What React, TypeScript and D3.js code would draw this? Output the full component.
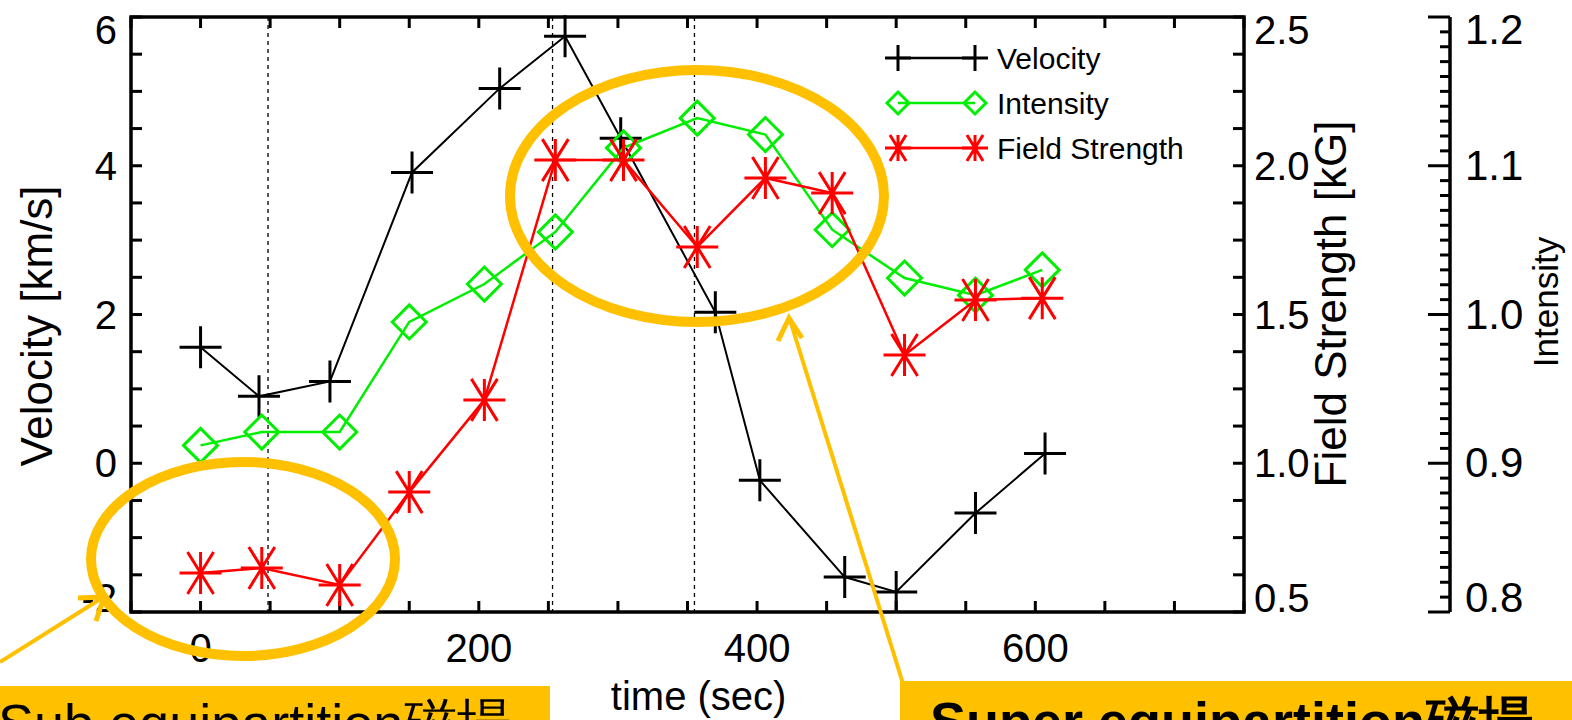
import React from "react";
import * as d3 from "d3";

// ---- data ----
const timeVel = [0, 42, 93, 152, 215, 262, 302, 370, 402, 463, 500, 557, 607];
const velocity = [1.56, 0.9, 1.1, 3.91, 5.04, 5.74, 4.37, 2.03, -0.23, -1.53, -1.73, -0.67, 0.13];
const timeMag = [0, 44, 100, 150, 204, 255, 304, 357, 406, 454, 506, 557, 605];
const intensity = [0.912, 0.921, 0.921, 0.995, 1.0205, 1.0555, 1.112, 1.132, 1.121, 1.057, 1.0245, 1.013, 1.03];
const fieldStrength = [0.631, 0.648, 0.591, 0.903, 1.213, 2.019, 2.019, 1.727, 1.959, 1.908, 1.364, 1.549, 1.555];
const markerTimes = [48.5, 253, 355];
const xTicks = [0, 200, 400, 600];
const velTicks = [-2, 0, 2, 4, 6];
const fieldTicks = [0.5, 1.0, 1.5, 2.0, 2.5];
const intTicks = [0.8, 0.9, 1.0, 1.1, 1.2];
const legendItems = ["Velocity", "Intensity", "Field Strength"];
const leftNote = "Sub equipartition磁場";
const rightNote = "Super equipartition磁場";

const W = 1572, H = 720;
const L = 131, R = 1244, T = 17, B = 612;
const IA = 1450;
const ORANGE = "#FFC000";
const GREEN = "#00ee00";
const RED = "#ff0000";
const FONT = "'Liberation Sans', Arial, Helvetica, sans-serif";

const x = d3.scaleLinear().domain([-50, 750]).range([L, R]);
const yV = d3.scaleLinear().domain([-2, 6]).range([B, T]);
const yF = d3.scaleLinear().domain([0.5, 2.5]).range([B, T]);
const yI = d3.scaleLinear().domain([0.8, 1.2]).range([B, T]);

// label center clamped inside the axis span (as in the original IDL plot)
const labY = (y: number) => Math.min(Math.max(y, T + 13), B - 14) + 14;

function Plus({ cx, cy, s = 21 }: any) {
  return <path d={`M${cx - s},${cy}H${cx + s}M${cx},${cy - s}V${cy + s}`} stroke="black" strokeWidth={3} fill="none" />;
}
function Diamond({ cx, cy, s = 17 }: any) {
  return <path d={`M${cx - s},${cy}L${cx},${cy - s}L${cx + s},${cy}L${cx},${cy + s}Z`} stroke={GREEN} strokeWidth={3} fill="none" />;
}
function Star({ cx, cy, s = 21 }: any) {
  const dx = s * 0.62, dy = s;
  return <path d={`M${cx - s},${cy}H${cx + s}M${cx},${cy - s}V${cy + s}M${cx - dx},${cy - dy}L${cx + dx},${cy + dy}M${cx + dx},${cy - dy}L${cx - dx},${cy + dy}`} stroke={RED} strokeWidth={3} fill="none" />;
}

export default function App() {
  const lineV = d3.line<number>().x((_, i) => x(timeVel[i])).y((d) => yV(d));
  const lineI = d3.line<number>().x((_, i) => x(timeMag[i])).y((d) => yI(d));
  const lineF = d3.line<number>().x((_, i) => x(timeMag[i])).y((d) => yF(d));
  const xMinor = d3.range(-50, 751, 50);
  const vMinor = d3.range(-2, 6.01, 0.5);
  const fMinor = d3.range(0.5, 2.501, 0.125);
  const iMinor = d3.range(0.8, 1.2001, 0.01);
  const tk = 11;
  return (
    <svg width={W} height={H} style={{ position: "absolute", left: 0, top: 0 }} fontFamily={FONT}>
      <rect width={W} height={H} fill="white" />
      {markerTimes.map((t, i) => (
        <line key={i} x1={x(t)} x2={x(t)} y1={T} y2={B} stroke="black" strokeWidth={1.3} strokeDasharray="4,4" />
      ))}
      <path d={`M${L},${B}H${R}V${T}H${L}Z`} fill="none" stroke="black" strokeWidth={3.5} />
      {xMinor.map((t, i) => (
        <g key={i}>
          <line x1={x(t)} x2={x(t)} y1={B} y2={B - tk} stroke="black" strokeWidth={3} />
          <line x1={x(t)} x2={x(t)} y1={T} y2={T + tk} stroke="black" strokeWidth={3} />
        </g>
      ))}
      {vMinor.map((v, i) => (
        <line key={i} x1={L} x2={L + tk} y1={yV(v)} y2={yV(v)} stroke="black" strokeWidth={3} />
      ))}
      {fMinor.map((v, i) => (
        <line key={i} x1={R} x2={R - tk} y1={yF(v)} y2={yF(v)} stroke="black" strokeWidth={3} />
      ))}
      {xTicks.map((t) => (
        <text key={t} x={x(t)} y={662} fontSize={40} textAnchor="middle">{t}</text>
      ))}
      {velTicks.map((v) => (
        <text key={v} x={L - 14} y={labY(yV(v))} fontSize={40} textAnchor="end">{v}</text>
      ))}
      {fieldTicks.map((v) => (
        <text key={v} x={R + 10} y={labY(yF(v))} fontSize={40}>{v.toFixed(1)}</text>
      ))}
      <text x={x(358)} y={710} fontSize={40} textAnchor="middle">time (sec)</text>
      <text transform={`translate(52,326) rotate(-90)`} fontSize={44} textAnchor="middle">Velocity [km/s]</text>
      <text transform={`translate(1346,304) rotate(-90)`} fontSize={44} textAnchor="middle">Field Strength [kG]</text>

      <line x1={IA} x2={IA} y1={T} y2={B} stroke="black" strokeWidth={3.5} />
      {iMinor.map((v, i) => {
        const major = i % 10 === 0;
        return <line key={i} x1={IA} x2={IA - (major ? 22 : 10)} y1={yI(v)} y2={yI(v)} stroke="black" strokeWidth={3} />;
      })}
      {intTicks.map((v) => (
        <text key={v} x={IA + 15} y={labY(yI(v))} fontSize={42}>{v.toFixed(1)}</text>
      ))}
      <text transform={`translate(1558,302) rotate(-90)`} fontSize={35} textAnchor="middle">Intensity</text>

      <path d={lineV(velocity) || ""} fill="none" stroke="black" strokeWidth={2} />
      {velocity.map((v, i) => <Plus key={i} cx={x(timeVel[i])} cy={yV(v)} />)}
      <path d={lineI(intensity) || ""} fill="none" stroke={GREEN} strokeWidth={2.5} />
      {intensity.map((v, i) => <Diamond key={i} cx={x(timeMag[i])} cy={yI(v)} />)}
      <path d={lineF(fieldStrength) || ""} fill="none" stroke={RED} strokeWidth={2.5} />
      {fieldStrength.map((v, i) => <Star key={i} cx={x(timeMag[i])} cy={yF(v)} />)}

      {legendItems.map((name, i) => {
        const ly = 58 + i * 45;
        const x1 = 898, x2 = 975;
        return (
          <g key={name}>
            <line x1={x1} x2={x2} y1={ly} y2={ly} stroke={i === 0 ? "black" : i === 1 ? GREEN : RED} strokeWidth={2.5} />
            {i === 0 && <><Plus cx={x1} cy={ly} s={13} /><Plus cx={x2} cy={ly} s={13} /></>}
            {i === 1 && <><Diamond cx={x1} cy={ly} s={11} /><Diamond cx={x2} cy={ly} s={11} /></>}
            {i === 2 && <><Star cx={x1} cy={ly} s={13} /><Star cx={x2} cy={ly} s={13} /></>}
            <text x={997} y={ly + 11} fontSize={30}>{name}</text>
          </g>
        );
      })}

      <ellipse cx={243} cy={559} rx={152} ry={97} fill="none" stroke={ORANGE} strokeWidth={10} />
      <ellipse cx={697} cy={196} rx={187} ry={126} fill="none" stroke={ORANGE} strokeWidth={10} />
      <line x1={0} y1={662} x2={102} y2={598} stroke={ORANGE} strokeWidth={4} />
      <path d="M78,598 L104,597 L96,621" fill="none" stroke={ORANGE} strokeWidth={5} />
      <line x1={905} y1={690} x2={790} y2={320} stroke={ORANGE} strokeWidth={4} />
      <path d="M778,341 L789,318 L802,338" fill="none" stroke={ORANGE} strokeWidth={5} />
      <rect x={0} y={686} width={550} height={40} fill={ORANGE} />
      <rect x={900} y={681} width={680} height={45} fill={ORANGE} />
      <text x={-2} y={742} fontSize={54}>{leftNote}</text>
      <text x={930} y={740} fontSize={54} fontWeight="bold">{rightNote}</text>
    </svg>
  );
}
